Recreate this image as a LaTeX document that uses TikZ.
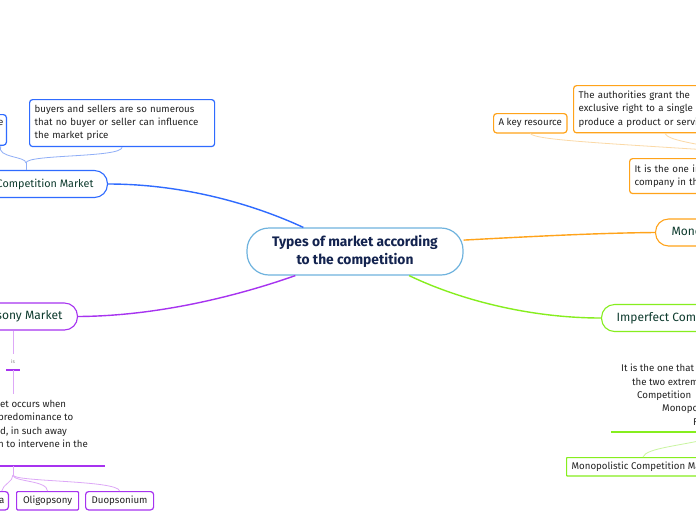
\documentclass[tikz,border=0pt]{standalone}
\usepackage{fontspec}
\setmainfont{Fira Sans}
\definecolor{cblue}{HTML}{2F6BFF}
\definecolor{cbluel}{HTML}{8FAEF7}
\definecolor{corange}{HTML}{FFA31A}
\definecolor{corangel}{HTML}{FBD9A6}
\definecolor{cgreen}{HTML}{86EE1E}
\definecolor{cgreenl}{HTML}{C9F5A0}
\definecolor{cpurple}{HTML}{A733F0}
\definecolor{cpurplel}{HTML}{DDA8F7}
\definecolor{ccentral}{HTML}{6FB3DE}
\definecolor{ctitle}{HTML}{13234F}
\definecolor{ctopic}{HTML}{0E3B2E}
\definecolor{ctext}{HTML}{222222}
\begin{document}
\begin{tikzpicture}[x=1pt,y=-1pt,
 topic/.style={draw=#1, line width=1.1pt, rounded corners=13pt, minimum height=27pt, inner xsep=15pt, fill=white, text=ctopic, font=\fontsize{12}{14}\selectfont},
 subbox/.style={draw=#1, line width=1.2pt, rounded corners=3pt, inner xsep=5pt, inner ysep=6pt, align=left, text=ctext, font=\fontsize{9.7}{13.3}\selectfont, fill=white},
 single/.style={text height=7pt, text depth=2.3pt, inner ysep=5pt},
 plaintext/.style={inner sep=0pt, align=left, text=ctext, font=\fontsize{9.7}{13.4}\selectfont},
 mainlink/.style={draw=#1, line width=1.4pt},
 sublink/.style={draw=#1, line width=0.8pt},
 uline/.style={draw=#1, line width=1.8pt},
]
\useasboundingbox (0,0) rectangle (696,520);
\clip (0,0) rectangle (696,520);
\fill[white] (0,0) rectangle (696,520);

% central
\node[draw=ccentral, line width=1.2pt, rounded corners=22pt, minimum width=216pt, minimum height=47pt, align=center, fill=white, text=ctitle, font=\fontsize{13.8}{18}\selectfont\bfseries] (c) at (355,251.5) {Types of market according\\to the competition};

% topics
\node[topic=cblue, anchor=east, inner xsep=14pt, font=\fontsize{10.8}{14}\selectfont] (pc) at (108,184) {Perfect Competition Market};
\node[topic=corange, anchor=west, inner xsep=16pt] (mono) at (655,232.5) {Monopoly Market};
\node[topic=cgreen, anchor=west] (imp) at (601,318) {Imperfect Competition Market};
\node[topic=cpurple, anchor=east] (mps) at (78,316.5) {Monopsony Market};

% blue subtree
\node[subbox=cblue, anchor=north west, text width=175pt, inner ysep=5.5pt] (buy) at (29,99) {buyers and sellers are so numerous\\that no buyer or seller can influence\\the market price};
\node[subbox=cblue, anchor=north east, inner xsep=3pt, inner ysep=2pt, align=right] (lb) at (7,114) {\strut e\\\strut};
\coordinate (bj) at (26,163);
\draw[sublink=cbluel] (bj |- pc.north) -- (bj);
\draw[sublink=cbluel] (bj) .. controls (26,154) and (122,158) .. (buy.south);
\draw[sublink=cbluel] (bj) .. controls (26,156) and (-4,158) .. (lb.south);

% orange subtree
\node[subbox=corange, single, anchor=north west] (key) at (493,113) {A key resource};
\node[subbox=corange, anchor=north west, text width=160pt, inner ysep=5.5pt] (auth) at (573,85) {The authorities grant the\\exclusive right to a single\\produce a product or service};
\node[subbox=corange, anchor=north west, text width=120pt, inner ysep=6pt] (one) at (629,158) {It is the one in\\company in the};
\coordinate (oj) at (740,152);
\coordinate (ax) at (665,0);
\draw[sublink=corangel] (key.south) .. controls (535,140) and (600,143) .. (oj);
\draw[sublink=corangel] (ax |- auth.south) .. controls (668,140) and (690,143) .. (oj);

% green subtree
\node[plaintext, anchor=north west] (itxt) at (621,364) {It is the one that\\\hspace*{11pt}the two extremes\\\hspace*{16pt}Competition\\\hspace*{41pt}Monopoly\\\hspace*{72pt}F};
\coordinate (gu1) at (611,432);
\coordinate (gu2) at (710,432);
\draw[uline=cgreen, line width=1.5pt] (gu1) -- (gu2);
\node[subbox=cgreen, single, anchor=north west, rounded corners=0.5pt, inner ysep=4.5pt] (mcm) at (566,457) {Monopolistic Competition Market};
\coordinate (gj) at (712,438);
\coordinate (gx) at (643,0);
\draw[sublink=cgreenl] (gj) .. controls (680,446) and (646,448) .. (gx |- mcm.north);

% purple subtree
\coordinate (px) at (13,0);
\coordinate (p1) at (13,354);
\node[font=\fontsize{5}{6}\selectfont, text=gray, inner sep=0pt] (is) at (13,362) {is};
\coordinate (isl) at (6,370);
\coordinate (isr) at (20,370);
\draw[cpurple, line width=1.5pt] (isl) -- (isr);
\draw[sublink=cpurplel] (px |- mps.south) -- (p1);
\node[plaintext, anchor=north west] (ptxt) at (0,400) {et occurs when\\\hspace*{-2pt}predominance to\\d, in such away\\\hspace*{-2pt}n to intervene in the};
\coordinate (p2) at (13,394);
\draw[sublink=cpurplel] (13,370) -- (p2);
\coordinate (pu1) at (-5,466);
\coordinate (pu2) at (105,466);
\draw[uline=cpurple] (pu1) -- (pu2);
\coordinate (pj) at (13,475);
\coordinate (pjt) at (13,466);
\draw[sublink=cpurplel] (pjt) -- (pj);
\node[subbox=cpurple, single, anchor=north east, inner xsep=4pt, inner ysep=4.5pt] (pa) at (9,491) {a};
\node[subbox=cpurple, single, anchor=north west, rounded corners=1pt, minimum width=62pt, inner ysep=4.5pt] (olig) at (16,491) {Oligopsony};
\node[subbox=cpurple, single, anchor=north west, minimum width=68pt, inner ysep=4.5pt] (duo) at (85,491) {Duopsonium};
\draw[sublink=cpurplel] (pj) .. controls (13,482) and (47,480) .. (olig.north);
\draw[sublink=cpurplel] (pj) .. controls (13,482) and (118,480) .. (duo.north);
\draw[sublink=cpurplel] (pj) .. controls (13,482) and (3,484) .. (pa.north);

% main links
\draw[mainlink=cblue] (c.155.7) .. controls (255,205) and (185,184) .. (pc.east);
\draw[mainlink=corange] (c.6) .. controls (540,236) and (600,233) .. (mono.west);
\draw[mainlink=cgreen] (c.-24.3) .. controls (460,300) and (530,318) .. (imp.west);
\draw[mainlink=cpurple] (c.202) .. controls (240,295) and (160,316) .. (mps.east);
\end{tikzpicture}
\end{document}
